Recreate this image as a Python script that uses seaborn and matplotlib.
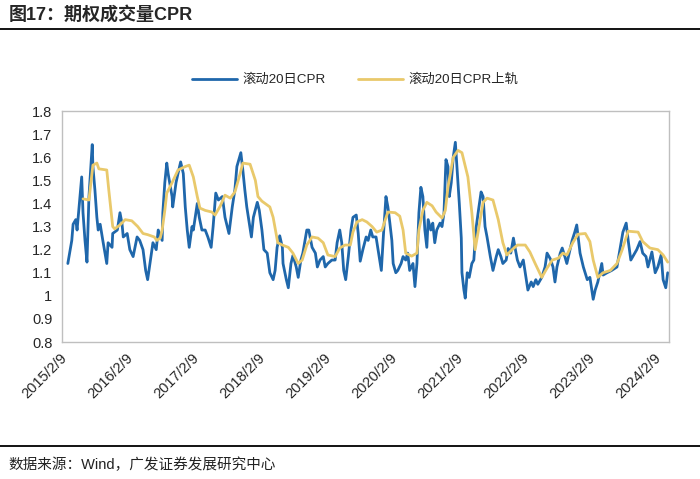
import matplotlib
matplotlib.use("Agg")
import matplotlib.pyplot as plt
import pandas as pd
import seaborn as sns


CPR_T = [
    2015.15, 2015.21, 2015.23, 2015.27, 2015.29, 2015.32, 2015.36, 2015.38, 2015.41, 2015.44,
    2015.47, 2015.52, 2015.53, 2015.56, 2015.59, 2015.61, 2015.64, 2015.68, 2015.74, 2015.76,
    2015.82, 2015.83, 2015.90, 2015.94, 2015.97, 2015.99, 2016.05, 2016.09, 2016.14, 2016.20,
    2016.24, 2016.29, 2016.33, 2016.36, 2016.41, 2016.44, 2016.49, 2016.52, 2016.58, 2016.59,
    2016.62, 2016.65, 2016.67, 2016.73, 2016.74, 2016.79, 2016.82, 2016.86, 2016.90, 2016.93,
    2016.96, 2016.99, 2017.03, 2017.05, 2017.11, 2017.14, 2017.18, 2017.23, 2017.27, 2017.32,
    2017.35, 2017.39, 2017.43, 2017.49, 2017.53, 2017.59, 2017.64, 2017.68, 2017.71, 2017.77,
    2017.80, 2017.83, 2017.86, 2017.93, 2017.96, 2018.02, 2018.05, 2018.09, 2018.12, 2018.17,
    2018.21, 2018.26, 2018.29, 2018.32, 2018.36, 2018.40, 2018.41, 2018.46, 2018.49, 2018.53,
    2018.56, 2018.61, 2018.64, 2018.68, 2018.71, 2018.77, 2018.80, 2018.85, 2018.90, 2018.93,
    2018.97, 2019.02, 2019.05, 2019.09, 2019.15, 2019.20, 2019.23, 2019.27, 2019.30, 2019.33,
    2019.36, 2019.40, 2019.44, 2019.47, 2019.52, 2019.55, 2019.58, 2019.62, 2019.67, 2019.70,
    2019.74, 2019.77, 2019.82, 2019.85, 2019.90, 2019.93, 2019.97, 2020.00, 2020.03, 2020.06,
    2020.08, 2020.12, 2020.15, 2020.20, 2020.23, 2020.27, 2020.30, 2020.33, 2020.38, 2020.41,
    2020.44, 2020.47, 2020.50, 2020.53, 2020.56, 2020.59, 2020.61, 2020.65, 2020.68, 2020.71,
    2020.74, 2020.79, 2020.82, 2020.85, 2020.88, 2020.91, 2020.93, 2020.96, 2020.99, 2021.02,
    2021.05, 2021.08, 2021.11, 2021.12, 2021.15, 2021.17, 2021.20, 2021.23, 2021.27, 2021.30,
    2021.33, 2021.37, 2021.41, 2021.44, 2021.47, 2021.50, 2021.55, 2021.59, 2021.64, 2021.67,
    2021.71, 2021.74, 2021.79, 2021.82, 2021.86, 2021.90, 2021.93, 2021.96, 2022.00, 2022.05,
    2022.09, 2022.12, 2022.17, 2022.20, 2022.24, 2022.27, 2022.33, 2022.38, 2022.41, 2022.46,
    2022.50, 2022.53, 2022.56, 2022.61, 2022.64, 2022.68, 2022.71, 2022.79, 2022.83, 2022.86,
    2022.91, 2022.96, 2023.02, 2023.06, 2023.11, 2023.14, 2023.18, 2023.24, 2023.26, 2023.32,
    2023.39, 2023.47, 2023.52, 2023.56, 2023.61, 2023.64, 2023.68, 2023.71, 2023.77, 2023.82,
    2023.86, 2023.91, 2023.94, 2024.00, 2024.05, 2024.09, 2024.14, 2024.17, 2024.21, 2024.24,
]
CPR_V = [
    1.14, 1.24, 1.31, 1.33, 1.285, 1.385, 1.515, 1.36, 1.24, 1.146,
    1.43, 1.655, 1.56, 1.46, 1.34, 1.285, 1.31, 1.24, 1.14, 1.23,
    1.21, 1.27, 1.285, 1.36, 1.315, 1.255, 1.27, 1.20, 1.17, 1.255,
    1.24, 1.20, 1.11, 1.07, 1.17, 1.23, 1.20, 1.285, 1.24, 1.36,
    1.49, 1.575, 1.53, 1.43, 1.385, 1.49, 1.53, 1.58, 1.53, 1.385,
    1.285, 1.21, 1.30, 1.285, 1.40, 1.34, 1.285, 1.285, 1.255, 1.21,
    1.30, 1.445, 1.415, 1.43, 1.34, 1.27, 1.385, 1.46, 1.56, 1.62,
    1.545, 1.46, 1.385, 1.255, 1.34, 1.405, 1.37, 1.285, 1.20, 1.185,
    1.10, 1.07, 1.11, 1.21, 1.26, 1.21, 1.14, 1.07, 1.035, 1.14,
    1.175, 1.125, 1.08, 1.155, 1.185, 1.285, 1.285, 1.21, 1.185, 1.125,
    1.155, 1.17, 1.125, 1.14, 1.155, 1.155, 1.23, 1.285, 1.23, 1.11,
    1.07, 1.17, 1.285, 1.34, 1.35, 1.27, 1.15, 1.20, 1.255, 1.24,
    1.285, 1.255, 1.255, 1.20, 1.11, 1.255, 1.43, 1.385, 1.315, 1.24,
    1.14, 1.10, 1.11, 1.14, 1.17, 1.155, 1.185, 1.11, 1.14, 1.04,
    1.14, 1.36, 1.47, 1.43, 1.285, 1.21, 1.33, 1.285, 1.315, 1.23,
    1.285, 1.315, 1.30, 1.36, 1.59, 1.56, 1.43, 1.49, 1.60, 1.665,
    1.53, 1.40, 1.25, 1.10, 1.025, 0.99, 1.10, 1.08, 1.14, 1.155,
    1.285, 1.37, 1.45, 1.43, 1.30, 1.255, 1.17, 1.11, 1.17, 1.20,
    1.17, 1.14, 1.155, 1.205, 1.185, 1.25, 1.20, 1.155, 1.125, 1.155,
    1.08, 1.025, 1.06, 1.04, 1.07, 1.05, 1.08, 1.125, 1.185, 1.16,
    1.125, 1.06, 1.125, 1.185, 1.207, 1.17, 1.14, 1.24, 1.276, 1.307,
    1.185, 1.125, 1.07, 1.08, 0.985, 1.025, 1.06, 1.14, 1.09, 1.10,
    1.11, 1.125, 1.21, 1.276, 1.315, 1.24, 1.155, 1.17, 1.20, 1.235,
    1.185, 1.17, 1.125, 1.19, 1.10, 1.125, 1.177, 1.07, 1.035, 1.10,
]

UPPER_T = [
    2015.38, 2015.47, 2015.53, 2015.59, 2015.62, 2015.74, 2015.77, 2015.83, 2015.86, 2015.94,
    2016.02, 2016.12, 2016.21, 2016.29, 2016.36, 2016.46, 2016.50, 2016.55, 2016.58, 2016.62,
    2016.65, 2016.73, 2016.82, 2016.93, 2016.99, 2017.05, 2017.11, 2017.15, 2017.23, 2017.33,
    2017.38, 2017.46, 2017.53, 2017.61, 2017.68, 2017.76, 2017.80, 2017.91, 2017.99, 2018.03,
    2018.09, 2018.21, 2018.26, 2018.33, 2018.40, 2018.49, 2018.56, 2018.64, 2018.70, 2018.77,
    2018.85, 2018.94, 2019.02, 2019.09, 2019.20, 2019.27, 2019.35, 2019.43, 2019.47, 2019.53,
    2019.61, 2019.68, 2019.76, 2019.83, 2019.91, 2019.96, 2020.00, 2020.11, 2020.18, 2020.23,
    2020.27, 2020.36, 2020.44, 2020.47, 2020.53, 2020.59, 2020.67, 2020.73, 2020.82, 2020.87,
    2020.91, 2020.99, 2021.06, 2021.12, 2021.21, 2021.27, 2021.32, 2021.37, 2021.44, 2021.50,
    2021.59, 2021.67, 2021.74, 2021.80, 2021.88, 2021.96, 2022.08, 2022.15, 2022.23, 2022.33,
    2022.41, 2022.49, 2022.58, 2022.65, 2022.71, 2022.80, 2022.88, 2022.99, 2023.06, 2023.11,
    2023.18, 2023.26, 2023.37, 2023.47, 2023.55, 2023.64, 2023.79, 2023.86, 2023.97, 2024.09,
    2024.17, 2024.24,
]
UPPER_V = [
    1.42, 1.415, 1.566, 1.575, 1.55, 1.545, 1.46, 1.30, 1.29, 1.307,
    1.33, 1.325, 1.30, 1.27, 1.265, 1.255, 1.24, 1.25, 1.285, 1.37,
    1.445, 1.49, 1.545, 1.56, 1.566, 1.515, 1.43, 1.38, 1.37, 1.363,
    1.35, 1.39, 1.436, 1.423, 1.45, 1.53, 1.575, 1.57, 1.50, 1.43,
    1.41, 1.385, 1.34, 1.23, 1.22, 1.21, 1.185, 1.14, 1.155, 1.22,
    1.255, 1.25, 1.23, 1.177, 1.17, 1.207, 1.22, 1.22, 1.276, 1.32,
    1.33, 1.32, 1.30, 1.276, 1.285, 1.33, 1.363, 1.36, 1.345, 1.285,
    1.185, 1.172, 1.185, 1.285, 1.37, 1.405, 1.39, 1.363, 1.337, 1.37,
    1.47, 1.60, 1.63, 1.62, 1.515, 1.36, 1.20, 1.285, 1.405, 1.423,
    1.415, 1.33, 1.23, 1.177, 1.20, 1.22, 1.22, 1.19, 1.14, 1.08,
    1.12, 1.155, 1.163, 1.185, 1.177, 1.23, 1.267, 1.27, 1.235, 1.155,
    1.08, 1.10, 1.11, 1.14, 1.20, 1.28, 1.276, 1.235, 1.207, 1.20,
    1.177, 1.146,
]

TICK_YEARS = list(range(2015, 2025))
TICK_LABELS = [f"{y}/2/9" for y in TICK_YEARS]
Y_TICKS = [0.8, 0.9, 1.0, 1.1, 1.2, 1.3, 1.4, 1.5, 1.6, 1.7, 1.8]
Y_LABELS = ["0.8", "0.9", "1", "1.1", "1.2", "1.3", "1.4", "1.5", "1.6", "1.7", "1.8"]

BLUE = "#1F67AB"
GOLD = "#E9C96B"


def to_date(t):
    year = int(t)
    return pd.Timestamp(year, 1, 1) + pd.Timedelta(days=(t - year) * 365.25)


def main() -> None:
    sns.set_theme(style="white")
    plt.rcParams["font.family"] = ["Liberation Sans", "Noto Sans CJK SC"]

    cpr = pd.DataFrame({"date": [to_date(t) for t in CPR_T], "value": CPR_V})
    upper = pd.DataFrame({"date": [to_date(t) for t in UPPER_T], "value": UPPER_V})

    fig = plt.figure(figsize=(7, 4.79), dpi=100)
    ax = fig.add_axes([0.0886, 0.286, 0.8671, 0.482])

    sns.lineplot(data=cpr, x="date", y="value", ax=ax, color=BLUE, lw=2.0,
                 label="滚动20日CPR")
    sns.lineplot(data=upper, x="date", y="value", ax=ax, color=GOLD, lw=2.0,
                 label="滚动20日CPR上轨")

    ax.set_xlim(to_date(2015.062), to_date(2024.259))
    ax.set_ylim(0.8, 1.8)
    ax.set_yticks(Y_TICKS)
    ax.set_yticklabels(Y_LABELS, fontsize=10.5)
    ax.set_xticks([pd.Timestamp(y, 2, 9) for y in TICK_YEARS])
    ax.set_xticklabels(TICK_LABELS, rotation=45, ha="right", va="center",
                       rotation_mode="anchor", fontsize=10.5)
    ax.set_xlabel("")
    ax.set_ylabel("")
    ax.tick_params(axis="y", length=4, width=0.8, color="#A6A6A6", pad=3)
    ax.tick_params(axis="x", length=0, pad=10)
    for s in ax.spines.values():
        s.set_color("#BFBFBF")
        s.set_linewidth(1.0)

    ax.legend(loc="center", bbox_to_anchor=(0.507, 0.833), bbox_transform=fig.transFigure,
              ncol=2, frameon=False, fontsize=9.6, handlelength=3.4, columnspacing=2.4,
              handletextpad=0.4)

    fig.text(0.012, 0.970, "图17：期权成交量CPR", fontsize=13, fontweight="bold",
             va="center", ha="left")
    fig.add_artist(plt.Line2D([0, 1], [0.94, 0.94], color="black", lw=1.3,
                              transform=fig.transFigure))
    fig.add_artist(plt.Line2D([0, 1], [0.068, 0.068], color="black", lw=1.3,
                              transform=fig.transFigure))
    fig.text(0.012, 0.030, "数据来源：Wind，广发证券发展研究中心", fontsize=10.5,
             va="center", ha="left", color="#222222")

    fig.savefig("out.png", dpi=100)
    plt.close(fig)


if __name__ == "__main__":
    main()
